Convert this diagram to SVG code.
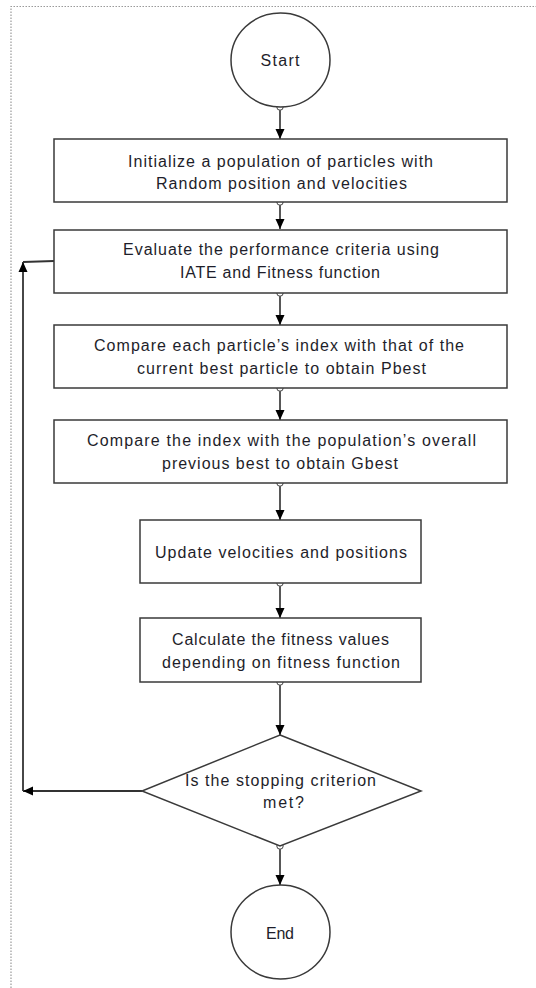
<svg xmlns="http://www.w3.org/2000/svg" width="536" height="988" viewBox="0 0 536 988">
<defs>
<style>
.box{fill:#fff;stroke:#3a3a3a;stroke-width:1.5}
.t{font-family:"Liberation Sans",Arial,sans-serif;font-size:16px;fill:#1e1e2a;text-anchor:middle}
.ln{fill:none;stroke:#111;stroke-width:1.4}
.fb{fill:none;stroke:#333;stroke-width:1.8}
.dot{fill:#fff;stroke:#444;stroke-width:1}
</style>
<marker id="ah" markerUnits="userSpaceOnUse" markerWidth="10" markerHeight="10" viewBox="0 0 10 10" refX="10" refY="5" orient="auto">
<path d="M0,0.5 L10,5 L0,9.5 Z" fill="#000"/>
</marker>
</defs>
<rect width="536" height="988" fill="#fff"/>
<path d="M11,1000 V6.5 H540" fill="none" stroke="#9a9a9a" stroke-width="1.2" stroke-dasharray="1.5,1.5"/>

<g id="connectors">
<line class="ln" x1="280" y1="110" x2="280" y2="139" marker-end="url(#ah)"/>
<line class="ln" x1="280" y1="205" x2="280" y2="229" marker-end="url(#ah)"/>
<line class="ln" x1="280" y1="296" x2="280" y2="325" marker-end="url(#ah)"/>
<line class="ln" x1="280" y1="391" x2="280" y2="420" marker-end="url(#ah)"/>
<line class="ln" x1="280" y1="486" x2="280" y2="520" marker-end="url(#ah)"/>
<line class="ln" x1="280" y1="586" x2="280" y2="618" marker-end="url(#ah)"/>
<line class="ln" x1="280" y1="685" x2="280" y2="735" marker-end="url(#ah)"/>
<line class="ln" x1="280" y1="849" x2="280" y2="885" marker-end="url(#ah)"/>
<line class="fb" x1="142" y1="791" x2="23" y2="791" marker-end="url(#ah)"/>
<line class="fb" x1="23" y1="791" x2="23" y2="262" marker-end="url(#ah)"/>
<line class="fb" x1="23" y1="262" x2="54" y2="261"/>
<circle class="dot" cx="280" cy="107" r="3.2"/>
<circle class="dot" cx="280" cy="202" r="3.2"/>
<circle class="dot" cx="280" cy="293" r="3.2"/>
<circle class="dot" cx="280" cy="388" r="3.2"/>
<circle class="dot" cx="280" cy="483" r="3.2"/>
<circle class="dot" cx="280" cy="583" r="3.2"/>
<circle class="dot" cx="280" cy="682" r="3.2"/>
<circle class="dot" cx="280" cy="846" r="3.2"/>
</g>

<g id="start">
<ellipse class="box" cx="280.5" cy="60" rx="49.5" ry="47"/>
<text class="t" x="280" y="65.5" textLength="39">Start</text>
</g>
<g id="init">
<rect class="box" x="54" y="139" width="453" height="63"/>
<text class="t" x="280.5" y="166.5" textLength="305">Initialize a population of particles with</text>
<text class="t" x="281.5" y="188.5" textLength="251">Random position and velocities</text>
</g>
<g id="evaluate">
<rect class="box" x="54" y="230" width="453" height="63"/>
<text class="t" x="281" y="254.5" textLength="316">Evaluate the performance criteria using</text>
<text class="t" x="280" y="277.5" textLength="200">IATE and Fitness function</text>
</g>
<g id="pbest">
<rect class="box" x="54" y="325" width="453" height="63"/>
<text class="t" x="279" y="350.5" textLength="370">Compare each particle’s index with that of the</text>
<text class="t" x="281.5" y="373.5" textLength="289">current best particle to obtain Pbest</text>
</g>
<g id="gbest">
<rect class="box" x="54" y="420" width="453" height="63"/>
<text class="t" x="281.5" y="445.5" textLength="389">Compare the index with the population’s overall</text>
<text class="t" x="280" y="468.5" textLength="236">previous best to obtain Gbest</text>
</g>
<g id="update">
<rect class="box" x="140" y="520" width="281" height="63"/>
<text class="t" x="281" y="557.5" textLength="252">Update velocities and positions</text>
</g>
<g id="fitness">
<rect class="box" x="140" y="618" width="281" height="64"/>
<text class="t" x="280.5" y="644.5" textLength="217">Calculate the fitness values</text>
<text class="t" x="281" y="667.5" textLength="238">depending on fitness function</text>
</g>
<g id="decision">
<polygon class="box" points="280,735 421,791 280,846 142,791"/>
<text class="t" x="280.5" y="785.5" textLength="191">Is the stopping criterion</text>
<text class="t" x="283.5" y="807.5" textLength="41">met?</text>
</g>
<g id="end">
<ellipse class="box" cx="280.5" cy="932" rx="49.5" ry="47"/>
<text class="t" x="280" y="938.5" textLength="28">End</text>
</g>
</svg>
